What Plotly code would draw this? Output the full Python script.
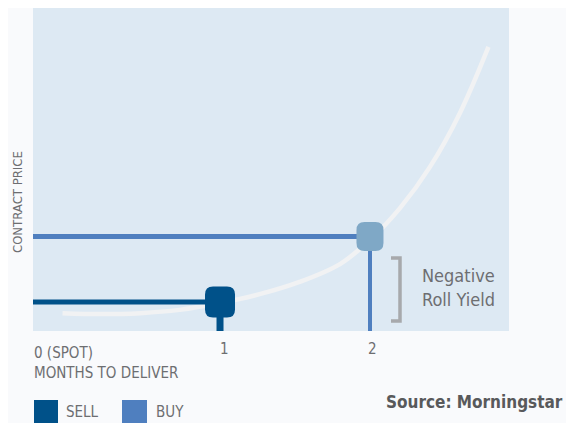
import plotly.graph_objects as go

# ---------------- data ----------------
series_names = ["SELL", "BUY"]
months = [1, 2]                 # months to deliver for sell / buy contracts
prices = [8.9, 29.1]            # contract prices (arbitrary units)
curve_x = [-0.05, 0.2, 0.47, 0.73, 1.0, 1.27, 1.53, 1.8, 2.0, 2.2, 2.4, 2.6, 2.79]
curve_y = [5.5, 5.2, 5.5, 6.5, 8.6, 11.4, 15.1, 20.6, 28.0, 37.8, 50.5, 67.1, 87.4]
tick_vals = [1, 2]
tick_text = ["1", "2"]
x_title = "MONTHS TO DELIVER"
x_start_label = "0 (SPOT)"
y_title = "CONTRACT PRICE"
bracket_label = ["Negative", "Roll Yield"]
source = "Source: Morningstar"

# ---------------- style ----------------
OFF = 8                       # page body margin of the browser
PAGE_W, PAGE_H = 574, 423
W, H = PAGE_W - 2 * OFF, PAGE_H - OFF
PL, PT, PR, PB = 33, 8, 509, 331   # plot box in page pixels
L, T, R, B = PL - OFF, PT - OFF, (OFF + W) - PR, (OFF + H) - PB
XR = [-0.247, 2.927]
YR = [0, (PB - PT) / 3.25]
colors = ["#005189", "#4f7fbf"]
marker_colors = ["#005189", "#7fa8c6"]
hline_w = [5, 5]
vline_w = [7, 4]
marker_half = [(15, 15.5), (13.5, 14.5)]
grey = "#6d6e71"
FONT = "DejaVu Sans Condensed, Liberation Sans Narrow, sans-serif"

pw, ph = PR - PL, PB - PT

def px2paper_x(px):
    return (px - PL) / pw

def px2paper_y(py):
    return (PB - py) / ph

def px2data_x(px):
    return XR[0] + (px - PL) / pw * (XR[1] - XR[0])

def px2data_y(py):
    return YR[0] + (PB - py) / ph * (YR[1] - YR[0])

def rounded_rect(hx, hy, r):
    return (f"M {-hx+r},{-hy} L {hx-r},{-hy} Q {hx},{-hy} {hx},{-hy+r} "
            f"L {hx},{hy-r} Q {hx},{hy} {hx-r},{hy} L {-hx+r},{hy} "
            f"Q {-hx},{hy} {-hx},{hy-r} L {-hx},{-hy+r} Q {-hx},{-hy} {-hx+r},{-hy} Z")

fig = go.Figure()

# futures curve
fig.add_trace(go.Scatter(
    x=curve_x, y=curve_y, mode="lines",
    line=dict(color="#f1f2f3", width=4.5, shape="spline", smoothing=1.0),
    hoverinfo="skip", showlegend=False))

# horizontal and vertical guide lines for each contract
for i in range(len(months)):
    fig.add_trace(go.Scatter(
        x=[XR[0], months[i]], y=[prices[i], prices[i]], mode="lines",
        line=dict(color=colors[i], width=hline_w[i]),
        hoverinfo="skip", showlegend=False))
    fig.add_trace(go.Scatter(
        x=[months[i], months[i]], y=[YR[0], prices[i]], mode="lines",
        line=dict(color=colors[i], width=vline_w[i]),
        hoverinfo="skip", showlegend=False))

shapes = []
for i in range(len(months)):
    hx, hy = marker_half[i]
    shapes.append(dict(
        type="path", xref="x", yref="y",
        xsizemode="pixel", ysizemode="pixel",
        xanchor=months[i], yanchor=prices[i],
        path=rounded_rect(hx, hy, 8),
        fillcolor=marker_colors[i], line=dict(width=0), layer="above"))

# bracket
bx0, bx1 = px2data_x(391), px2data_x(400)
by0, by1 = px2data_y(321), px2data_y(258)
shapes.append(dict(
    type="path", xref="x", yref="y",
    path=f"M {bx0},{by1} L {bx1},{by1} L {bx1},{by0} L {bx0},{by0}",
    line=dict(color="#a7a9ac", width=3.5), layer="above"))

# legend swatches
legend_px = [(34, 58), (122, 147)]
for i in range(len(series_names)):
    x0, x1 = legend_px[i]
    shapes.append(dict(
        type="rect", xref="paper", yref="paper",
        x0=px2paper_x(x0), x1=px2paper_x(x1),
        y0=px2paper_y(430), y1=px2paper_y(400),
        fillcolor=colors[i], line=dict(width=0)))

annotations = []
# tick labels
tick_px = [224, 372]
for v, t, p in zip(tick_vals, tick_text, tick_px):
    annotations.append(dict(
        x=px2paper_x(p), y=px2paper_y(349), xref="paper", yref="paper",
        text=t, showarrow=False, xanchor="center", yanchor="middle",
        font=dict(family=FONT, size=15, color=grey)))
annotations.append(dict(
    x=px2paper_x(32), y=px2paper_y(352.5), xref="paper", yref="paper",
    text=x_start_label, showarrow=False, xanchor="left", yanchor="middle",
    font=dict(family=FONT, size=15, color=grey)))
annotations.append(dict(
    x=px2paper_x(32), y=px2paper_y(372.5), xref="paper", yref="paper",
    text=x_title, showarrow=False, xanchor="left", yanchor="middle",
    font=dict(family=FONT, size=15, color=grey)))
annotations.append(dict(
    x=px2paper_x(17), y=px2paper_y(202), xref="paper", yref="paper",
    text=y_title, showarrow=False, textangle=-90,
    xanchor="center", yanchor="middle",
    font=dict(family=FONT, size=13, color=grey)))
# bracket label
for txt, py in zip(bracket_label, [275.5, 299]):
    annotations.append(dict(
        x=px2paper_x(420), y=px2paper_y(py), xref="paper", yref="paper",
        text=txt, showarrow=False, xanchor="left", yanchor="middle",
        font=dict(family=FONT, size=18, color=grey)))
# legend labels
legend_text_px = [64, 154]
for i in range(len(series_names)):
    annotations.append(dict(
        x=px2paper_x(legend_text_px[i]), y=px2paper_y(412), xref="paper", yref="paper",
        text=series_names[i], showarrow=False, xanchor="left", yanchor="middle",
        font=dict(family=FONT, size=15, color=grey)))
# source
annotations.append(dict(
    x=px2paper_x(OFF + W - 1), y=px2paper_y(402), xref="paper", yref="paper",
    text=f"<b>{source}</b>", showarrow=False, xanchor="right", yanchor="middle",
    font=dict(family=FONT, size=17, color="#58595b")))

fig.update_layout(
    width=W, height=H,
    margin=dict(l=L, r=R, t=T, b=B, pad=0),
    paper_bgcolor="#f9fafc", plot_bgcolor="#dde9f3",
    xaxis=dict(range=XR, showgrid=False, zeroline=False, showticklabels=False,
               ticks="", showline=False, fixedrange=True),
    yaxis=dict(range=YR, showgrid=False, zeroline=False, showticklabels=False,
               ticks="", showline=False, fixedrange=True),
    shapes=shapes, annotations=annotations, showlegend=False,
)

fig.write_html("out.html")
